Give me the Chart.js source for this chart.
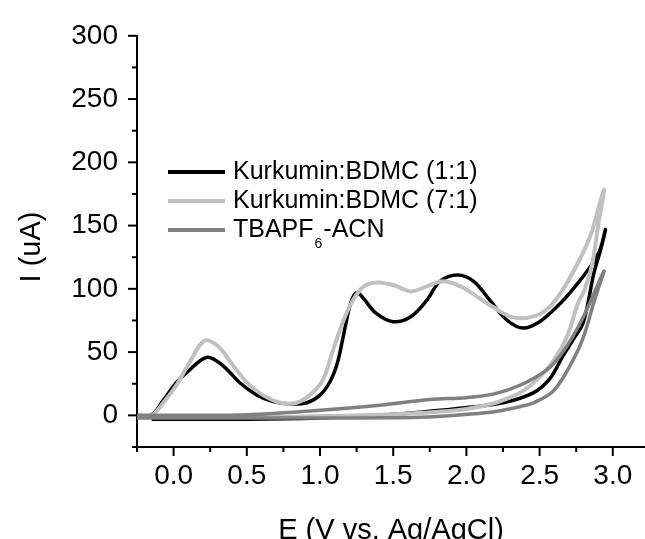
<!DOCTYPE html>
<html>
<head>
<meta charset="utf-8">
<script src="https://cdn.jsdelivr.net/npm/chart.js@4.4.0/dist/chart.umd.min.js"></script>
<style>
  html, body { margin: 0; padding: 0; background: #fff; overflow: hidden; }
  #wrap { width: 645px; height: 552px; position: relative; }
</style>
</head>
<body>
<div id="wrap"><canvas id="cv_Chart"></canvas></div>
<script>
// Kurkumin:BDMC (1:1) - forward scan then reverse scan
var e_11 = [-0.25, -0.15, -0.07, 0.02, 0.11, 0.23, 0.34, 0.45, 0.57, 0.68, 0.80, 0.91, 1.00, 1.07, 1.12, 1.16, 1.21, 1.25, 1.30, 1.38, 1.50, 1.62, 1.73, 1.82, 1.94, 2.05, 2.16, 2.28, 2.39, 2.50, 2.62, 2.73, 2.85, 2.91, 2.95,
            2.91, 2.87, 2.80, 2.73, 2.66, 2.57, 2.46, 2.25, 1.91, 1.68, 1.40, 1.00, 0.50, 0.00, -0.15];
var i_11 = [0, 0.5, 12, 26, 36, 46, 39, 26, 16, 11, 9, 10, 16, 27, 42, 63, 89, 97, 92, 81, 74, 78, 91, 106, 111, 106, 91, 75, 69, 74, 86, 100, 118, 130, 147,
            128, 112, 74, 60, 47, 29, 18, 10, 5, 2.5, 0, -2, -3, -3, -3];

// Kurkumin:BDMC (7:1)
var e_71 = [-0.25, -0.15, -0.07, 0.02, 0.11, 0.21, 0.30, 0.39, 0.50, 0.61, 0.73, 0.84, 0.93, 1.02, 1.09, 1.16, 1.23, 1.30, 1.39, 1.50, 1.62, 1.73, 1.84, 1.96, 2.07, 2.19, 2.30, 2.41, 2.53, 2.64, 2.76, 2.85, 2.91, 2.94,
            2.90, 2.86, 2.81, 2.76, 2.69, 2.60, 2.48, 2.37, 2.20, 2.00, 1.70, 1.30, 0.80, 0.30, -0.20];
var i_71 = [-1, 0, 10, 24, 42, 59, 55, 42, 26, 16, 10, 10, 16, 28, 52, 75, 92, 102, 105, 103, 98, 102, 106, 102, 94, 85, 78, 77, 82, 96, 120, 143, 167, 178,
            150, 120, 100, 88, 63, 44, 28, 18, 10, 5, 2, 0, -1, -1, -1];

// TBAPF6-ACN blank
var e_blank = [-0.25, 0.50, 1.00, 1.41, 1.75, 2.00, 2.19, 2.37, 2.55, 2.64, 2.73, 2.80, 2.87, 2.94,
               2.90, 2.87, 2.80, 2.73, 2.60, 2.46, 2.37, 2.20, 2.03, 1.68, 1.00, 0.00, -0.25];
var i_blank = [0, 0.5, 4, 8, 12.5, 14, 17, 24, 36, 47, 63, 78, 96, 114,
               100, 89, 62, 44, 20, 10, 7, 3, 1, -1.5, -2, -2, -2];

var seriesLabels = ["Kurkumin:BDMC (1:1)", "Kurkumin:BDMC (7:1)", "TBAPF6-ACN"];
var seriesColors = ["#000000", "#c0c0c0", "#808080"];

function toPoints(xs, ys) {
  return xs.map(function (x, k) { return { x: x, y: ys[k] }; });
}

function isMajor(v, step) {
  var r = v / step;
  return Math.abs(r - Math.round(r)) < 1e-6;
}

const fontFamily = "'Liberation Sans', Arial, sans-serif";

// outward tick marks (long at labelled values, short between)
const tickMarks = {
  id: "tickMarks",
  afterDraw(chart) {
    const ctx = chart.ctx;
    const area = chart.chartArea;
    ctx.save();
    ctx.strokeStyle = "#000";
    ctx.lineWidth = 2;
    chart.scales.x.ticks.forEach((t) => {
      const px = chart.scales.x.getPixelForValue(t.value);
      const len = isMajor(t.value, 0.5) ? 9 : 5;
      ctx.beginPath();
      ctx.moveTo(px, area.bottom);
      ctx.lineTo(px, area.bottom + len);
      ctx.stroke();
    });
    chart.scales.y.ticks.forEach((t) => {
      const py = chart.scales.y.getPixelForValue(t.value);
      const len = isMajor(t.value, 50) ? 9 : 5;
      ctx.beginPath();
      ctx.moveTo(area.left, py);
      ctx.lineTo(area.left - len, py);
      ctx.stroke();
    });
    ctx.restore();
  },
};

// legend inside plot + rotated y title
const legendAndTitle = {
  id: "legendAndTitle",
  afterDraw(chart) {
    const ctx = chart.ctx;
    ctx.save();
    const rows = [172, 201, 230];
    ctx.textBaseline = "middle";
    ctx.textAlign = "left";
    rows.forEach((y, k) => {
      ctx.strokeStyle = seriesColors[k];
      ctx.lineWidth = 4;
      ctx.beginPath();
      ctx.moveTo(168, y);
      ctx.lineTo(225, y);
      ctx.stroke();
      ctx.fillStyle = "#000";
      ctx.font = "25px " + fontFamily;
      if (k < 2) {
        ctx.fillText(seriesLabels[k], 233, y);
      } else {
        ctx.fillText("TBAPF", 233, y);
        let w = ctx.measureText("TBAPF").width;
        ctx.font = "14px " + fontFamily;
        ctx.fillText("6", 233 + w + 1, y + 14);
        let w6 = ctx.measureText("6").width;
        ctx.font = "25px " + fontFamily;
        ctx.fillText("-ACN", 233 + w + w6 + 2, y);
      }
    });
    ctx.translate(32, 247);
    ctx.rotate(-Math.PI / 2);
    ctx.textAlign = "center";
    ctx.font = "29px " + fontFamily;
    ctx.fillText("I (uA)", 0, 0);
    ctx.restore();
  },
};

const data_cv = {
  datasets: [
    { label: seriesLabels[0], data: toPoints(e_11, i_11), borderColor: seriesColors[0], borderWidth: 3.5, order: 3 },
    { label: seriesLabels[1], data: toPoints(e_71, i_71), borderColor: seriesColors[1], borderWidth: 4, order: 2 },
    { label: seriesLabels[2], data: toPoints(e_blank, i_blank), borderColor: seriesColors[2], borderWidth: 3.5, order: 1 },
  ],
};

const config_cv = {
  type: "scatter",
  data: data_cv,
  options: {
    responsive: true,
    maintainAspectRatio: false,
    animation: false,
    layout: { padding: { top: 30, right: 0, bottom: 0, left: 0 } },
    elements: {
      point: { radius: 0 },
      line: { tension: 0.35, fill: false },
    },
    datasets: { scatter: { showLine: true } },
    plugins: {
      legend: { display: false },
      tooltip: { enabled: false },
    },
    scales: {
      x: {
        type: "linear",
        min: -0.25,
        max: 3.22,
        afterFit: (s) => { s.height = 105; },
        grid: { display: false, drawTicks: false },
        border: { display: true, color: "#000", width: 2 },
        ticks: {
          stepSize: 0.25,
          includeBounds: false,
          autoSkip: false,
          maxRotation: 0,
          padding: 12,
          color: "#000",
          font: { family: fontFamily, size: 28 },
          callback: (v) => (isMajor(v, 0.5) ? Number(v).toFixed(1) : ""),
        },
        title: {
          display: true,
          text: "E (V vs. Ag/AgCl)",
          color: "#000",
          font: { family: fontFamily, size: 29 },
          padding: { top: 0, bottom: 4 },
        },
      },
      y: {
        type: "linear",
        min: -25,
        max: 300,
        afterFit: (s) => { s.width = 137; },
        grid: { display: false, drawTicks: false },
        border: { display: true, color: "#000", width: 2 },
        ticks: {
          stepSize: 25,
          includeBounds: false,
          autoSkip: false,
          padding: 19,
          color: "#000",
          font: { family: fontFamily, size: 28 },
          callback: (v) => (isMajor(v, 50) ? String(v) : ""),
        },
      },
    },
  },
  plugins: [tickMarks, legendAndTitle],
};

const cv_Chart = new Chart(document.getElementById("cv_Chart"), config_cv);
</script>
</body>
</html>
